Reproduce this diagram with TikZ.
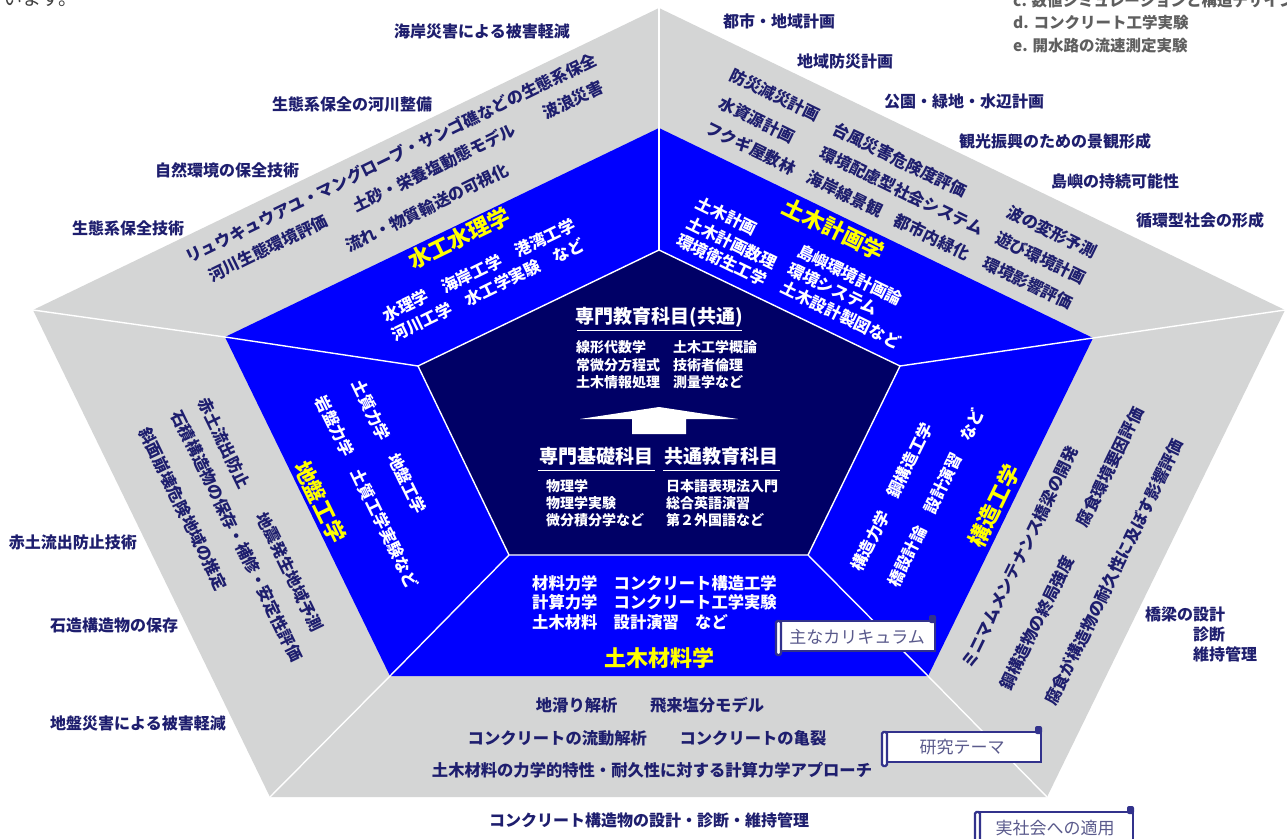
\documentclass[tikz,border=0pt]{standalone}
\usepackage{fontspec}
\setmainfont{Noto Sans CJK JP}
\definecolor{txtnavy}{RGB}{30,30,110}
\definecolor{dkblue}{RGB}{0,0,102}
\definecolor{brblue}{RGB}{0,0,255}
\definecolor{pgray}{RGB}{212,213,213}
\definecolor{ttlyel}{RGB}{255,255,0}
\definecolor{lblc}{RGB}{90,90,140}
\definecolor{scrollc}{RGB}{50,50,140}
\definecolor{blurgray}{RGB}{95,95,95}
\begin{document}
\begin{tikzpicture}[x=1pt,y=-1pt,
  every node/.style={inner sep=0pt},
  otxt/.style={text=txtnavy, font=\bfseries\fontsize{16}{18}\selectfont},
  gtxt/.style={text=txtnavy, font=\bfseries\fontsize{16.3}{18}\selectfont},
  wtxt/.style={text=white, font=\bfseries\fontsize{16.3}{18}\selectfont},
  ttl/.style={text=ttlyel, font=\bfseries\fontsize{22}{24}\selectfont},
  ctr/.style={anchor=west, text=white, font=\bfseries\fontsize{14}{16}\selectfont},
  head/.style={text=white, font=\bfseries\fontsize{19}{21}\selectfont},
  lbl/.style={text=lblc, font=\fontsize{17}{19}\selectfont},
  blur/.style={anchor=west, text=blurgray, font=\bfseries\fontsize{15.5}{17}\selectfont},
  wline/.style={white, line width=1.4pt},
  scrollbox/.style={draw=scrollc, line width=2.4pt, fill=white}
]
\useasboundingbox (0,0) rectangle (1287,838);
\fill[white] (0,0) rectangle (1287,838);

% vertices
\coordinate (oT) at (659,8);
\coordinate (oR) at (1285,310);
\coordinate (oBR) at (1047,797);
\coordinate (oBL) at (270,797);
\coordinate (oL) at (33,310);
\coordinate (bT) at (659,128);
\coordinate (bR) at (1093,338);
\coordinate (bBR) at (928,676);
\coordinate (bBL) at (390,676);
\coordinate (bL) at (225,337);
\coordinate (dT) at (659,250);
\coordinate (dR) at (900,366);
\coordinate (dBR) at (808,555);
\coordinate (dBL) at (509,555);
\coordinate (dL) at (418,366);

\fill[pgray] (oT)--(oR)--(oBR)--(oBL)--(oL)--cycle;
\fill[brblue] (bT)--(bR)--(bBR)--(bBL)--(bL)--cycle;
\draw[wline] (oT)--(bT)--(dT);
\draw[wline] (oR)--(bR)--(dR);
\draw[wline] (oBR)--(bBR)--(dBR);
\draw[wline] (oBL)--(bBL)--(dBL);
\draw[wline] (oL)--(bL)--(dL);
\filldraw[fill=dkblue, draw=white, line width=1.4pt] (dT)--(dR)--(dBR)--(dBL)--(dL)--cycle;

% centre
\node[head] (h1) at (659,317) {専門教育科目(共通)};
\draw[white, line width=1pt] (577,330)--(742,330);
\node[ctr] (c1) at (576,347) {線形代数学};
\node[ctr] (c2) at (576,365) {常微分方程式};
\node[ctr] (c3) at (576,382) {土木情報処理};
\node[ctr] (c4) at (673,347) {土木工学概論};
\node[ctr] (c5) at (673,365) {技術者倫理};
\node[ctr] (c6) at (673,382) {測量学など};
\fill[white] (659,407)--(738,419)--(686,419)--(686,434)--(632,434)--(632,419)--(580,419)--cycle;
\node[head] (h2) at (596,456) {専門基礎科目};
\node[head] (h3) at (721,456) {共通教育科目};
\draw[white, line width=1pt] (538,470)--(655,470);
\draw[white, line width=1pt] (663,470)--(780,470);
\node[ctr] (c7) at (546,486) {物理学};
\node[ctr] (c8) at (546,503) {物理学実験};
\node[ctr] (c9) at (546,520) {微分積分学など};
\node[ctr] (c10) at (666,486) {日本語表現法入門};
\node[ctr] (c11) at (666,503) {総合英語演習};
\node[ctr] (c12) at (666,520) {第２外国語など};

% top-left segment
\node[ttl, rotate=26] (t1) at (459,238) {水工水理学};
\node[wtxt, rotate=26] (w1) at (479,270) {水理学　海岸工学　港湾工学};
\node[wtxt, rotate=26] (w2) at (488,290) {河川工学　水工学実験　など};
\node[gtxt, rotate=26] (g1) at (391,158) {リュウキュウアユ・マングローブ・サンゴ礁などの生態系保全};
\node[gtxt, rotate=26] (g2) at (268,248) {河川生態環境評価};
\node[gtxt, rotate=26] (g3) at (434,168) {土砂・栄養塩動態モデル};
\node[gtxt, rotate=26] (g4) at (573,100) {波浪災害};
\node[gtxt, rotate=26] (g5) at (427,208) {流れ・物質輸送の可視化};

% top-right segment
\node[ttl, rotate=-26] (t2) at (834,229) {土木計画学};
\node[wtxt, rotate=-26] (w3) at (727,216) {土木計画};
\node[wtxt, rotate=-26] (w4) at (732,243) {土木計画数理};
\node[wtxt, rotate=-26] (w5) at (722,260) {環境衛生工学};
\node[wtxt, rotate=-26] (w6) at (850,275) {島嶼環境計画論};
\node[wtxt, rotate=-26] (w7) at (833,289) {環境システム};
\node[wtxt, rotate=-26] (w8) at (841,315) {土木設計製図など};
\node[gtxt, rotate=-26] (g6) at (775,95) {防災減災計画};
\node[gtxt, rotate=-26] (g7) at (757,120) {水資源計画};
\node[gtxt, rotate=-26] (g8) at (751,148) {フクギ屋敷林};
\node[gtxt, rotate=-26] (g9) at (900,160) {台風災害危険度評価};
\node[gtxt, rotate=-26] (g10) at (902,191) {環境配慮型社会システム};
\node[gtxt, rotate=-26] (g11) at (845,194) {海岸線景観};
\node[gtxt, rotate=-26] (g12) at (932,237) {都市内緑化};
\node[gtxt, rotate=-26] (g13) at (1052,232) {波の変形予測};
\node[gtxt, rotate=-26] (g14) at (1041,258) {遊び環境計画};
\node[gtxt, rotate=-26] (g15) at (1028,283) {環境影響評価};

% right segment
\node[ttl, rotate=64] (t3) at (994,506) {構造工学};
\node[wtxt, rotate=64] (w9) at (892,497) {構造力学　鋼構造工学};
\node[wtxt, rotate=64] (w10) at (936,498) {橋設計論　設計演習　など};
\node[gtxt, rotate=64] (g16) at (1020,557) {ミニマムメンテナンス橋梁の開発};
\node[gtxt, rotate=64] (g17) at (1037,623) {鋼構造物の終局強度};
\node[gtxt, rotate=64] (g18) at (1110,467) {腐食環境要因評価};
\node[gtxt, rotate=64] (g19) at (1114,572) {腐食が構造物の耐久性に及ぼす影響評価};

% left segment
\node[ttl, rotate=-64] (t4) at (320,502) {地盤工学};
\node[wtxt, rotate=-64] (w11) at (389,447) {土質力学　地盤工学};
\node[wtxt, rotate=-64] (w12) at (367,492) {岩盤力学　土質工学実験など};
\node[gtxt, rotate=-64] (g20) at (224,443) {赤土流出防止};
\node[gtxt, rotate=-64] (g21) at (290,572) {地震発生地域予測};
\node[gtxt, rotate=-64] (g22) at (237,536) {石積構造物の保存・補修・安定性評価};
\node[gtxt, rotate=-64] (g23) at (183,509) {斜面崩壊危険地域の推定};

% bottom segment
\node[wtxt, anchor=west] (w13) at (532,583) {材料力学　コンクリート構造工学};
\node[wtxt, anchor=west] (w14) at (532,602) {計算力学　コンクリート工学実験};
\node[wtxt, anchor=west] (w15) at (532,622) {土木材料　設計演習　など};
\node[ttl] (t5) at (659,658) {土木材料学};
\node[gtxt] (g24) at (650,705) {地滑り解析　　飛来塩分モデル};
\node[gtxt] (g25) at (647,738) {コンクリートの流動解析　　コンクリートの亀裂};
\node[gtxt] (g26) at (652,770) {土木材料の力学的特性・耐久性に対する計算力学アプローチ};

% outer texts
\node[otxt] (o1) at (482,31) {海岸災害による被害軽減};
\node[otxt] (o2) at (352,104) {生態系保全の河川整備};
\node[otxt] (o3) at (227,170) {自然環境の保全技術};
\node[otxt] (o4) at (128,228) {生態系保全技術};
\node[otxt] (o5) at (779,21) {都市・地域計画};
\node[otxt] (o6) at (845,61) {地域防災計画};
\node[otxt] (o7) at (964,101) {公園・緑地・水辺計画};
\node[otxt] (o8) at (1055,141) {観光振興のための景観形成};
\node[otxt] (o9) at (1115,181) {島嶼の持続可能性};
\node[otxt] (o10) at (1200,220) {循環型社会の形成};
\node[otxt] (o11) at (73,542) {赤土流出防止技術};
\node[otxt] (o12) at (114,625) {石造構造物の保存};
\node[otxt] (o13) at (138,723) {地盤災害による被害軽減};
\node[otxt] (o14) at (649,820) {コンクリート構造物の設計・診断・維持管理};
\node[otxt, anchor=west] (o15) at (1145,614) {橋梁の設計};
\node[otxt, anchor=west] (o16) at (1193,634) {診断};
\node[otxt, anchor=west] (o17) at (1193,654) {維持管理};

% scroll labels
\draw[scrollbox] (780,621) rectangle (935,651);
\draw[scrollbox, rounded corners=1.5pt] (776,621) rectangle (781,655);
\fill[scrollc, rounded corners=2pt] (929,615) rectangle (936,623);
\node[lbl] (l1) at (857,637) {主なカリキュラム};

\draw[scrollbox] (886,732) rectangle (1041,762);
\draw[scrollbox, rounded corners=1.5pt] (882,732) rectangle (887,766);
\fill[scrollc, rounded corners=2pt] (1035,726) rectangle (1042,734);
\node[lbl] (l2) at (962,747) {研究テーマ};

\draw[scrollbox] (979,812) rectangle (1133,845);
\draw[scrollbox, rounded corners=1.5pt] (975,812) rectangle (980,849);
\fill[scrollc, rounded corners=2pt] (1127,806) rectangle (1134,814);
\node[lbl] (l3) at (1055,828) {実社会への適用};

% cropped page text
\node[text=black!75, font=\fontsize{19}{21}\selectfont, anchor=east] (p1) at (78,-1) {ています。};
\node[blur] (p2) at (1013,0) {c. 数値シミュレーションと構造デザイン};
\node[blur] (p3) at (1013,23) {d. コンクリート工学実験};
\node[blur] (p4) at (1013,46) {e. 開水路の流速測定実験};
\end{tikzpicture}
\end{document}
